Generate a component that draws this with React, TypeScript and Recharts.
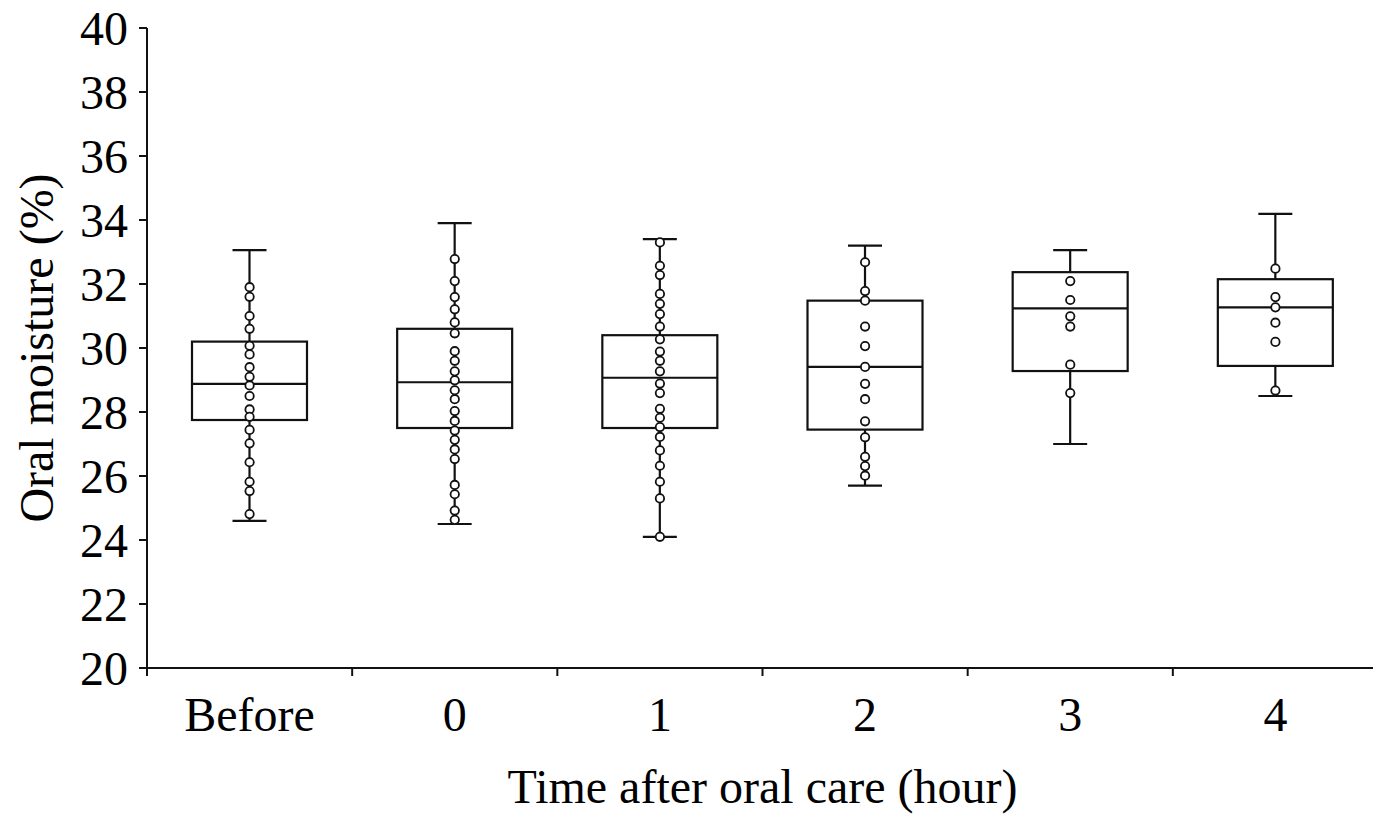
import { ComposedChart, Bar, Scatter, XAxis, YAxis, Label } from "recharts";

/* ---------------- DATA ---------------- */

const categories = ["Before", "0", "1", "2", "3", "4"];

const whiskerLow = [24.6, 24.5, 24.1, 25.7, 27.0, 28.5];
const quartile1 = [27.75, 27.5, 27.5, 27.45, 29.28, 29.44];
const medians = [28.88, 28.93, 29.07, 29.41, 31.24, 31.27];
const quartile3 = [30.2, 30.6, 30.4, 31.48, 32.37, 32.15];
const whiskerHigh = [33.06, 33.9, 33.4, 33.2, 33.06, 34.19];

const pointsBefore = [31.9, 31.6, 31.0, 30.6, 30.07, 29.8, 29.4, 29.1, 28.83, 28.5, 28.08, 27.85, 27.44, 27.02, 26.43, 25.82, 25.53, 24.81];
const points0 = [32.78, 32.09, 31.59, 31.21, 30.8, 30.46, 29.9, 29.6, 29.27, 28.99, 28.68, 28.4, 28.03, 27.72, 27.42, 27.13, 26.83, 26.53, 25.72, 25.43, 24.92, 24.63];
const points1 = [33.3, 32.57, 32.28, 31.69, 31.38, 31.06, 30.67, 30.27, 29.89, 29.6, 29.27, 28.89, 28.59, 28.1, 27.82, 27.53, 27.22, 26.8, 26.32, 25.82, 25.3, 24.1];
const points2 = [32.68, 31.78, 31.48, 30.67, 30.06, 29.41, 28.88, 28.4, 27.71, 27.21, 26.6, 26.31, 26.01];
const points3 = [32.09, 31.5, 30.99, 30.67, 29.48, 28.59];
const points4 = [32.48, 31.59, 31.27, 30.79, 30.19, 28.67];

const yTicks = [20, 22, 24, 26, 28, 30, 32, 34, 36, 38, 40];

/* ---------------- BUILT TABLES ---------------- */

const boxData = categories.map((name, i) => ({
  x: i,
  name,
  low: whiskerLow[i],
  q1: quartile1[i],
  median: medians[i],
  q3: quartile3[i],
  high: whiskerHigh[i]
}));

const pointData = [pointsBefore, points0, points1, points2, points3, points4].flatMap((vals, i) =>
  vals.map(v => ({ x: i, y: v }))
);

const FONT = "'Liberation Serif', 'Times New Roman', serif";
const INK = "#111";

/* ---------------- SHAPES ---------------- */

function BoxShape(props: any) {
  const { x, y, width, height, payload } = props;
  const top = Math.min(y, y + height);
  const h = Math.abs(height);
  const span = payload.high - payload.low;
  const py = (v: number) => top + (h * (payload.high - v)) / span;
  const cx = x + width / 2;
  const cap = 17;
  return (
    <g stroke={INK} strokeWidth={2.2} fill="none">
      <line x1={cx} x2={cx} y1={py(payload.high)} y2={py(payload.q3)} />
      <line x1={cx} x2={cx} y1={py(payload.q1)} y2={py(payload.low)} />
      <line x1={cx - cap} x2={cx + cap} y1={py(payload.high)} y2={py(payload.high)} />
      <line x1={cx - cap} x2={cx + cap} y1={py(payload.low)} y2={py(payload.low)} />
      <rect x={x} y={py(payload.q3)} width={width} height={py(payload.q1) - py(payload.q3)} />
      <line x1={x} x2={x + width} y1={py(payload.median)} y2={py(payload.median)} />
    </g>
  );
}

function PointShape(props: any) {
  const { cx, cy } = props;
  return <circle cx={cx} cy={cy} r={4.2} fill="#fff" stroke={INK} strokeWidth={1.8} />;
}

/* ---------------- COMPONENT ---------------- */

export default function App() {
  return (
    <div style={{ position: "absolute", left: 0, top: 0, width: 1373, height: 816, overflow: "hidden", background: "#fff" }}>
      <ComposedChart
        width={1385}
        height={816}
        data={boxData}
        margin={{ top: 28, right: 7, bottom: 0, left: 0 }}
      >
        {/* boundary tick marks + axis line */}
        <XAxis
          type="number"
          dataKey="x"
          domain={[-0.5, 5.5]}
          ticks={[-0.5, 0.5, 1.5, 2.5, 3.5, 4.5, 5.5]}
          tickFormatter={() => ""}
          height={1}
          tickSize={8}
          axisLine={{ stroke: INK, strokeWidth: 2 }}
          tickLine={{ stroke: INK, strokeWidth: 2 }}
          allowDataOverflow
        />
        {/* category labels */}
        <XAxis
          xAxisId="lbl"
          type="number"
          dataKey="x"
          domain={[-0.5, 5.5]}
          ticks={[0, 1, 2, 3, 4, 5]}
          tickFormatter={(v: number) => categories[v]}
          height={147}
          axisLine={false}
          tickLine={false}
          tickMargin={22}
          tick={{ fill: "#000", fontSize: 48, fontFamily: FONT }}
          allowDataOverflow
        >
          <Label
            content={(p: any) => {
              const vb = p.viewBox || {};
              return (
                <text
                  x={vb.x + vb.width / 2}
                  y={803}
                  textAnchor="middle"
                  fill="#000"
                  fontSize={48}
                  fontFamily={FONT}
                >
                  Time after oral care (hour)
                </text>
              );
            }}
          />
        </XAxis>
        <YAxis
          domain={[20, 40]}
          ticks={yTicks}
          width={147}
          tickSize={8}
          tickMargin={11}
          axisLine={{ stroke: INK, strokeWidth: 2 }}
          tickLine={{ stroke: INK, strokeWidth: 2 }}
          tick={{ fill: "#000", fontSize: 48, fontFamily: FONT }}
          allowDataOverflow
        >
          <Label
            content={(p: any) => {
              const vb = p.viewBox || {};
              const cy = vb.y + vb.height / 2;
              return (
                <text
                  x={53}
                  y={cy}
                  transform={`rotate(-90, 53, ${cy})`}
                  textAnchor="middle"
                  fill="#000"
                  fontSize={48}
                  fontFamily={FONT}
                >
                  Oral moisture (%)
                </text>
              );
            }}
          />
        </YAxis>
        <Bar
          dataKey={(d: any) => [d.low, d.high]}
          barSize={115}
          shape={<BoxShape />}
          isAnimationActive={false}
        />
        <Scatter
          data={pointData}
          dataKey="y"
          shape={<PointShape />}
          isAnimationActive={false}
        />
      </ComposedChart>
    </div>
  );
}
